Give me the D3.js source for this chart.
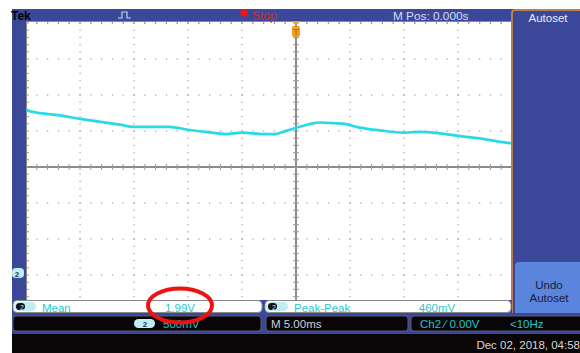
<!DOCTYPE html>
<html><head><meta charset="utf-8">
<script src="https://cdn.jsdelivr.net/npm/d3@7"></script>
<style>html,body{margin:0;padding:0;background:#fff;}svg{display:block;font-family:"Liberation Sans",Arial,sans-serif;}</style>
</head><body>
<script>
// ---- data ----
const timeMs = [-25,-23.7,-21.9,-20,-18.1,-16.3,-15,-13.5,-11.7,-10,-8.4,-6.5,-5,-3,-1.9,-1.0,0.1,1.3,2.2,3.6,4.5,5.9,7.8,10,11.5,13.3,15.2,17,18.9,20];
const ch2Volts = [2.26,2.22,2.19,2.14,2.10,2.06,2.03,2.03,2.03,1.99,1.96,1.93,1.95,1.93,1.93,1.97,2.02,2.07,2.09,2.08,2.07,2.02,1.98,1.95,1.96,1.94,1.90,1.87,1.82,1.80];
const timeDivs = [-5,-4,-3,-2,-1,0,1,2,3,4,5];
const voltDivs = [-4,-3,-2,-1,0,1,2,3,4];
const headerTexts = {brand:"Tek", state:"Stop", mpos:"M Pos: 0.000s"};
const measLabels = ["Mean","Peak-Peak"];
const measValues = ["1.99V","460mV"];
const statusTexts = {scale:"500mV", time:"M 5.00ms", trig:"Ch2 \u2044 0.00V", freq:"<10Hz", date:"Dec 02, 2018, 04:58"};
const menuTexts = {top:"Autoset", undo1:"Undo", undo2:"Autoset"};

const W=580,H=353;
const svg=d3.select("body").append("svg").attr("width",W).attr("height",H);
const blue="#3b489a", cyan="#1fc8cc", trace="#27dbe6";

// scales: 5 ms/div, 500 mV/div, ch2 ground at 272px
const cx=296, cy=167, divX=54, divY=36, gnd=273, vPerDiv=0.5;
const x=d3.scaleLinear().domain([-25,25]).range([cx-5*divX,cx+5*divX]);
const vTop=(gnd-(cy-4*divY))/divY*vPerDiv, vBot=(gnd-(cy+4*divY))/divY*vPerDiv;
const y=d3.scaleLinear().domain([vBot,vTop]).range([cy+4*divY,cy-4*divY]);
const gx=d3.scaleLinear().domain([-5,5]).range([x(-25),x(25)]);
const gy=d3.scaleLinear().domain([-4,4]).range([cy+4*divY,cy-4*divY]);

// header and left strip
svg.append("rect").attr("x",12).attr("y",9).attr("width",W-12).attr("height",12).attr("fill",blue);
svg.append("rect").attr("x",12).attr("y",9).attr("width",14).attr("height",292).attr("fill",blue);
// plot area
const plotL=26, plotT=21, plotR=512, plotB=300;
svg.append("rect").attr("x",plotL).attr("y",plotT).attr("width",plotR-plotL).attr("height",plotB-plotT).attr("fill","#fff");
svg.append("clipPath").attr("id","pc").append("rect").attr("x",plotL).attr("y",plotT).attr("width",plotR-plotL).attr("height",plotB-plotT);
const g=svg.append("g").attr("clip-path","url(#pc)");

// dotted grid
const dotC="#a8a8a8";
timeDivs.forEach(d=>{ if(d===0)return;
  d3.range(-4*5,4*5+1).forEach(k=>{ g.append("rect").attr("x",gx(d)-0.6).attr("y",gy(k/5)-0.6).attr("width",1.3).attr("height",1.3).attr("fill",dotC);});
});
voltDivs.forEach(d=>{ if(d===0)return;
  d3.range(-25,26).forEach(k=>{ g.append("rect").attr("x",gx(k/5)-0.6).attr("y",gy(d)-0.6).attr("width",1.3).attr("height",1.3).attr("fill",dotC);});
});
// center axes
g.append("line").attr("x1",plotL).attr("x2",plotR).attr("y1",gy(0)).attr("y2",gy(0)).attr("stroke","#666").attr("stroke-width",1.5);
g.append("line").attr("x1",gx(0)).attr("x2",gx(0)).attr("y1",plotT).attr("y2",plotB).attr("stroke","#666").attr("stroke-width",1.5);
d3.range(-25,26).forEach(k=>{ g.append("line").attr("x1",gx(k/5)).attr("x2",gx(k/5)).attr("y1",gy(0)-3).attr("y2",gy(0)+3).attr("stroke","#999").attr("stroke-width",1);
  g.append("line").attr("x1",gx(k/5)).attr("x2",gx(k/5)).attr("y1",plotT).attr("y2",plotT+3).attr("stroke","#999").attr("stroke-width",1);});
d3.range(-20,21).forEach(k=>{ g.append("line").attr("y1",gy(k/5)).attr("y2",gy(k/5)).attr("x1",gx(0)-3).attr("x2",gx(0)+3).attr("stroke","#999").attr("stroke-width",1);
  g.append("line").attr("y1",gy(k/5)).attr("y2",gy(k/5)).attr("x1",plotL).attr("x2",plotL+3).attr("stroke","#999").attr("stroke-width",1);});
g.append("line").attr("x1",plotL).attr("x2",plotR).attr("y1",plotT+0.5).attr("y2",plotT+0.5).attr("stroke","#888");
g.append("line").attr("x1",plotL+0.5).attr("x2",plotL+0.5).attr("y1",plotT).attr("y2",plotB).attr("stroke","#888");

// trace
const data=timeMs.map((t,i)=>[t,ch2Volts[i]]);
g.append("path").datum(data).attr("d",d3.line().x(d=>x(d[0])).y(d=>y(d[1])).curve(d3.curveMonotoneX))
  .attr("fill","none").attr("stroke",trace).attr("stroke-width",2.7);

// trigger marker
const tm=svg.append("g").attr("transform",`translate(${gx(0)},${plotT})`);
tm.append("path").attr("d","M-4,0 L4,0 L0,4 Z").attr("fill","#f0a020");
tm.append("rect").attr("x",-4).attr("y",5).attr("width",8).attr("height",11).attr("rx",2).attr("fill","#f0a020");
tm.append("text").attr("x",0).attr("y",14).attr("text-anchor","middle").attr("font-size",9).attr("font-weight","bold").attr("fill","#c07010").text("T");

// ground marker "2"
svg.append("rect").attr("x",12).attr("y",gnd-5).attr("width",12).attr("height",10).attr("rx",4).attr("fill","#bfeef2");
svg.append("text").attr("x",17).attr("y",gnd+3.5).attr("text-anchor","middle").attr("font-size",8).attr("font-weight","bold").attr("fill","#234").text("2");

// header texts
svg.append("text").attr("x",11).attr("y",20).attr("font-size",12).attr("font-weight","bold").attr("fill","#000").text(headerTexts.brand);
svg.append("path").attr("d","M118,18 L122,18 L122,12 L127,12 L127,18 L131,18").attr("fill","none").attr("stroke","#c8cfee").attr("stroke-width",1.2);
svg.append("circle").attr("cx",244).attr("cy",13).attr("r",3.6).attr("fill","#ff1010");
svg.append("text").attr("x",252).attr("y",20).attr("font-size",12).attr("fill","#e02020").text(headerTexts.state);
svg.append("text").attr("x",393).attr("y",19.5).attr("font-size",11.8).attr("fill","#d8dcf0").text(headerTexts.mpos);

// right menu
svg.append("rect").attr("x",511).attr("y",9).attr("width",69).attr("height",312).attr("fill",blue);
svg.append("rect").attr("x",512).attr("y",10).attr("width",70).attr("height",310).attr("rx",3).attr("fill","none").attr("stroke","#e09040").attr("stroke-width",1.5);
svg.append("text").attr("x",548).attr("y",22).attr("text-anchor","middle").attr("font-size",11.5).attr("fill","#e8ecf8").text(menuTexts.top);
svg.append("rect").attr("x",515).attr("y",262).attr("width",70).attr("height",56).attr("rx",4).attr("fill","#5b84dc");
svg.append("text").attr("x",549).attr("y",289).attr("text-anchor","middle").attr("font-size",11.5).attr("fill","#1a2040").text(menuTexts.undo1);
svg.append("text").attr("x",549).attr("y",302).attr("text-anchor","middle").attr("font-size",11.5).attr("fill","#1a2040").text(menuTexts.undo2);

// bottom panels
svg.append("rect").attr("x",12).attr("y",300).attr("width",500).attr("height",14).attr("fill",blue);
svg.append("rect").attr("x",12).attr("y",313).attr("width",568).attr("height",22).attr("fill",blue);
svg.append("rect").attr("x",12).attr("y",334).attr("width",568).attr("height",19).attr("fill","#0a0608");
const measBoxes=[[13,249],[265,246]];
measBoxes.forEach((b,i)=>{
  svg.append("rect").attr("x",b[0]).attr("y",300.5).attr("width",b[1]).attr("height",12).attr("rx",4).attr("fill","#fff").attr("stroke","#888");
  svg.append("rect").attr("x",b[0]+1).attr("y",302).attr("width",22).attr("height",9).attr("rx",4.5).attr("fill","#bfeef2");
  svg.append("rect").attr("x",b[0]+3).attr("y",303).attr("width",9).attr("height",7).attr("rx",3.5).attr("fill","#111");
  svg.append("text").attr("x",b[0]+9).attr("y",310).attr("text-anchor","middle").attr("font-size",7).attr("fill","#bfeef2").text("2");
  svg.append("text").attr("x",b[0]+29).attr("y",311.5).attr("font-size",11.5).attr("fill",cyan).text(measLabels[i]);
});
svg.append("text").attr("x",180).attr("y",311.5).attr("text-anchor","middle").attr("font-size",11.5).attr("fill",cyan).text(measValues[0]);
svg.append("text").attr("x",437).attr("y",311.5).attr("text-anchor","middle").attr("font-size",11.5).attr("fill",cyan).text(measValues[1]);
[[13,248],[266,142],[411,175]].forEach(b=>{
  svg.append("rect").attr("x",b[0]).attr("y",316).attr("width",b[1]).attr("height",15).attr("rx",3).attr("fill","#0a0608").attr("stroke","#555a70");
});
svg.append("rect").attr("x",134).attr("y",319).attr("width",21).attr("height",9).attr("rx",4.5).attr("fill","#bfeef2");
svg.append("text").attr("x",145).attr("y",327).attr("text-anchor","middle").attr("font-size",8).attr("font-weight","bold").attr("fill","#234").text("2");
svg.append("text").attr("x",163).attr("y",328).attr("font-size",11.5).attr("fill",cyan).text(statusTexts.scale);
svg.append("text").attr("x",271).attr("y",328).attr("font-size",11.5).attr("fill","#d0d0d0").text(statusTexts.time);
svg.append("text").attr("x",420).attr("y",328).attr("font-size",11.5).attr("fill",cyan).text(statusTexts.trig);
svg.append("text").attr("x",510).attr("y",328).attr("font-size",11.5).attr("fill",cyan).text(statusTexts.freq);
svg.append("text").attr("x",580).attr("y",349).attr("text-anchor","end").attr("font-size",11.5).attr("fill","#d8d8d8").text(statusTexts.date);

// red annotation ellipse
svg.append("ellipse").attr("cx",180).attr("cy",305.5).attr("rx",32).attr("ry",17).attr("fill","none").attr("stroke","#ee1111").attr("stroke-width",4);
</script>
</body></html>
